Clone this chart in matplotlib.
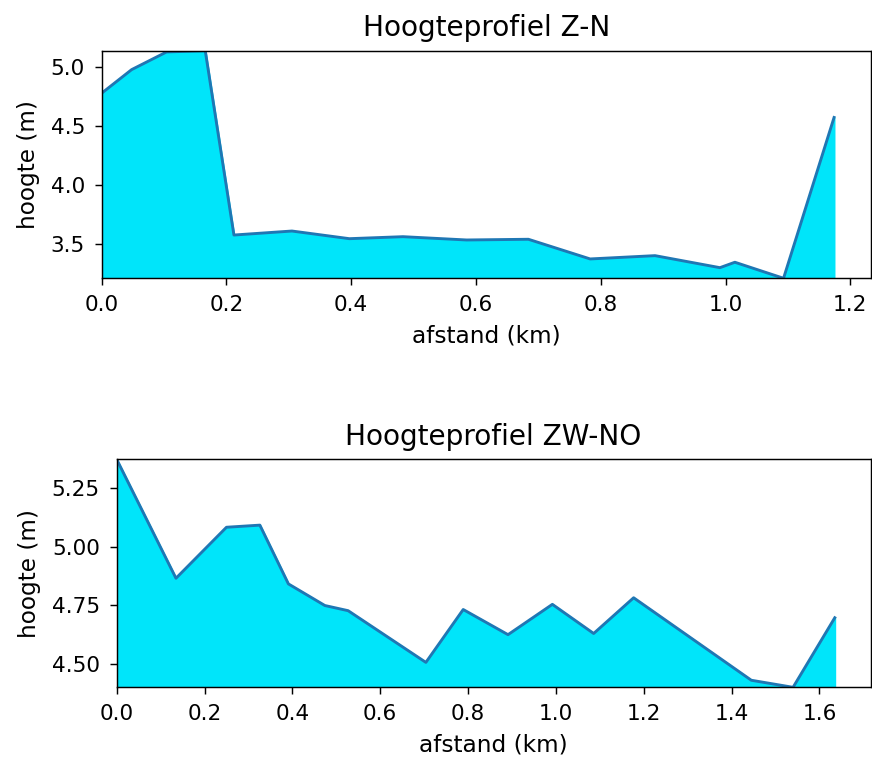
import matplotlib
matplotlib.use("Agg")
import matplotlib.pyplot as plt
from matplotlib.ticker import MultipleLocator

# Profiel Z-N: afstand (km) en hoogte (m)
afstand_zn = [0.0, 0.048, 0.104, 0.166, 0.212, 0.305, 0.397, 0.483, 0.585,
              0.684, 0.783, 0.887, 0.991, 1.015, 1.093, 1.174]
hoogte_zn = [4.78, 4.98, 5.13, 5.141, 3.576, 3.61, 3.545, 3.562, 3.534,
             3.54, 3.373, 3.401, 3.299, 3.345, 3.209, 4.574]

# Profiel ZW-NO
afstand_zwno = [0.0, 0.135, 0.250, 0.326, 0.391, 0.474, 0.527, 0.704, 0.789,
                0.891, 0.992, 1.086, 1.177, 1.445, 1.540, 1.635]
hoogte_zwno = [5.371, 4.865, 5.082, 5.091, 4.841, 4.749, 4.727, 4.507, 4.732,
               4.625, 4.754, 4.630, 4.782, 4.431, 4.401, 4.697]

FILL = "#00e5fa"
LINE = "#1f77b4"
DPI = 130

fig = plt.figure(figsize=(872 / DPI, 763 / DPI), dpi=DPI)
ax1 = fig.add_axes([0.1166, 0.6353, 0.8819, 0.2983])
ax2 = fig.add_axes([0.1338, 0.0992, 0.8647, 0.2988])


def profiel(ax, x, y, titel, ystap):
    ax.fill_between(x, y, min(y), color=FILL)
    ax.plot(x, y, color=LINE, linewidth=1.6)
    ax.set_xlim(left=0)
    ax.set_ylim(min(y), max(y))
    ax.yaxis.set_major_locator(MultipleLocator(ystap))
    ax.set_title(titel, fontsize=15.5, pad=8)
    ax.set_xlabel("afstand (km)", fontsize=12.8, labelpad=5)
    ax.set_ylabel("hoogte (m)", fontsize=12.8, labelpad=6)
    ax.tick_params(labelsize=12, pad=5.5, length=3.8)


profiel(ax1, afstand_zn, hoogte_zn, "Hoogteprofiel Z-N", 0.5)
profiel(ax2, afstand_zwno, hoogte_zwno, "Hoogteprofiel ZW-NO", 0.25)

fig.savefig("out.png", dpi=DPI)
